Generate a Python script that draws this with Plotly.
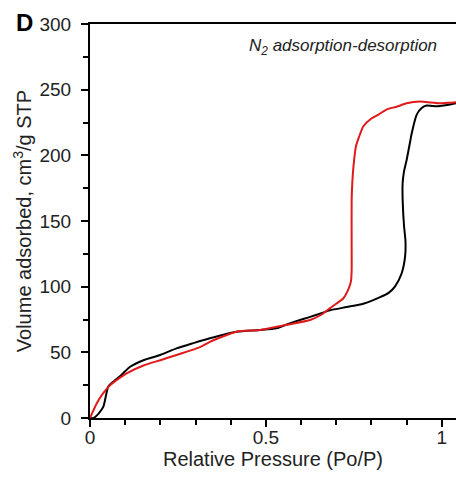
import plotly.graph_objects as go

# Adsorption branch (black)
ads_x = [0.0, 0.01, 0.025, 0.038, 0.052, 0.066, 0.09, 0.114, 0.152, 0.2, 0.246, 0.294, 0.341, 0.417,
         0.483, 0.53, 0.578, 0.626, 0.66, 0.682, 0.73, 0.777, 0.825, 0.85, 0.867, 0.886, 0.896, 0.897,
         0.893, 0.889, 0.889, 0.893, 0.9, 0.91, 0.915, 0.929, 0.943, 0.957, 0.975, 0.995, 1.02, 1.041]
ads_y = [0.0, 0.0, 3.5, 8.6, 24.0, 27.6, 33.0, 39.0, 44.0, 48.0, 53.0, 57.0, 60.7, 65.7,
         67.0, 68.3, 73.0, 77.0, 80.0, 82.0, 84.5, 87.0, 92.0, 95.5, 100.0, 110.0, 123.0, 135.0,
         146.0, 166.0, 179.0, 188.0, 196.0, 210.0, 217.0, 231.0, 236.0, 238.0, 237.5, 237.6, 238.5, 239.6]

# Desorption branch (red)
des_x = [1.041, 1.02, 0.995, 0.96, 0.938, 0.9, 0.872, 0.844, 0.82, 0.8, 0.777, 0.765, 0.756, 0.749,
         0.746, 0.744, 0.744, 0.744, 0.742, 0.734, 0.72, 0.7, 0.682, 0.66, 0.626, 0.559, 0.483, 0.417,
         0.341, 0.313, 0.246, 0.2, 0.152, 0.104, 0.057, 0.035, 0.019, 0.0]
des_y = [240.5, 240.0, 239.6, 240.5, 241.0, 239.6, 237.0, 235.0, 231.0, 228.0, 222.0, 214.0, 206.6, 191.0,
         180.0, 166.0, 133.0, 112.7, 104.0, 97.5, 91.0, 87.0, 83.5, 79.0, 74.6, 71.0, 67.0, 65.7,
         58.0, 54.0, 48.0, 44.0, 40.0, 34.0, 25.0, 18.0, 11.0, 0.0]

x_ticks = [0, 0.5, 1]
x_ticklabels = ["0", "0.5", "1"]
y_ticks = [0, 50, 100, 150, 200, 250, 300]

FONT = "Liberation Sans, Arial, sans-serif"
TXT = "#222222"

fig = go.Figure()
fig.add_trace(go.Scatter(x=ads_x, y=ads_y, mode="lines",
                         line=dict(color="#000000", width=2, shape="spline", smoothing=0.6),
                         showlegend=False, hoverinfo="skip"))
fig.add_trace(go.Scatter(x=des_x, y=des_y, mode="lines",
                         line=dict(color="#e0191b", width=2, shape="spline", smoothing=0.6),
                         showlegend=False, hoverinfo="skip"))

fig.update_layout(
    width=456, height=485,
    margin=dict(l=90, r=0, t=24, b=67),
    paper_bgcolor="white", plot_bgcolor="white",
    font=dict(family=FONT, size=19, color=TXT),
    xaxis=dict(
        range=[0, 1.0407], tickvals=x_ticks, ticktext=x_ticklabels,
        showgrid=False, zeroline=False,
        showline=True, linecolor="black", linewidth=2, mirror=True,
        ticks="outside", ticklen=7, tickwidth=2, tickcolor="black",
        minor=dict(dtick=0.1, tick0=0, ticks="outside", ticklen=5, tickwidth=2, tickcolor="black"),
        tickfont=dict(size=19, family=FONT, color=TXT), ticklabelstandoff=-6,
        title=dict(text="Relative Pressure (Po/P)", font=dict(size=20, family=FONT, color=TXT), standoff=4),
    ),
    yaxis=dict(
        range=[0, 300], tickvals=y_ticks,
        showgrid=False, zeroline=False,
        showline=True, linecolor="black", linewidth=2, mirror=False,
        ticks="outside", ticklen=7, tickwidth=2, tickcolor="black",
        minor=dict(dtick=25, tick0=0, ticks="outside", ticklen=5, tickwidth=2, tickcolor="black"),
        tickfont=dict(size=19, family=FONT, color=TXT), ticklabelstandoff=6,
        title=dict(text="Volume adsorbed, cm<sup>3</sup>/g STP", font=dict(size=20, family=FONT, color=TXT), standoff=2),
    ),
    annotations=[
        dict(text="<i>N<sub>2</sub> adsorption-desorption</i>", xref="paper", yref="paper",
             x=0.954, y=0.942, xanchor="right", yanchor="middle", showarrow=False,
             font=dict(size=17, family=FONT, color=TXT)),
        dict(text="<b>D</b>", xref="paper", yref="paper", x=-0.178, y=1.005,
             xanchor="center", yanchor="middle", showarrow=False,
             font=dict(size=24, family=FONT, color="black")),
    ],
)

fig.write_html("out.html")
